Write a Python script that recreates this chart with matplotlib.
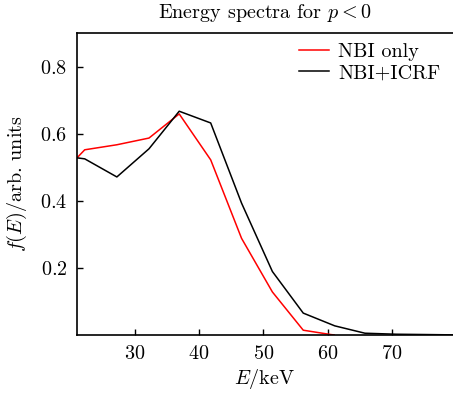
import matplotlib
matplotlib.use("Agg")
import matplotlib.pyplot as plt

plt.rcParams["font.family"] = "cmr10"
plt.rcParams["mathtext.fontset"] = "cm"
plt.rcParams["axes.formatter.use_mathtext"] = True

# energy grid (keV) and spectra
energy_nbi = [21, 22.2, 27.2, 32.2, 36.9, 41.8, 46.6, 51.4, 56.2, 60.5, 61]
f_nbi = [0.528, 0.552, 0.567, 0.587, 0.659, 0.522, 0.288, 0.128, 0.014, 0.001, 0.0]

energy_icrf = [21, 22.2, 27.2, 32.2, 36.9, 41.8, 46.6, 51.4, 56.2, 61.1, 65.8, 70.7, 75.5, 80]
f_icrf = [0.528, 0.525, 0.471, 0.555, 0.667, 0.632, 0.393, 0.189, 0.065, 0.027, 0.005, 0.002, 0.001, 0.0]

fs = 14.5

fig = plt.figure(figsize=(4.53, 3.94), dpi=100)
ax = fig.add_axes([0.170, 0.150, 0.830, 0.766])

ax.plot(energy_nbi, f_nbi, color="red", lw=1.1, label="NBI only")
ax.plot(energy_icrf, f_icrf, color="black", lw=1.1, label="NBI+ICRF")

ax.set_xlim(21, 79.5)
ax.set_ylim(0, 0.9)
ax.set_xticks([30, 40, 50, 60, 70])
ax.set_yticks([0.2, 0.4, 0.6, 0.8])
ax.tick_params(direction="in", labelsize=fs, length=4, width=1, pad=7)
ax.spines["right"].set_visible(False)
for s in ["left", "bottom", "top"]:
    ax.spines[s].set_linewidth(1.2)

ax.set_xlabel("$E$/keV", fontsize=fs, labelpad=3)
ax.set_ylabel("$f(E)$/arb. units", fontsize=fs, labelpad=8)
ax.set_title("Energy spectra for $p<0$", fontsize=fs, pad=11)
ax.legend(loc="upper right", frameon=False, fontsize=fs, handlelength=1.5,
          borderaxespad=0.1, labelspacing=0.15, handletextpad=0.45,
          bbox_to_anchor=(0.993, 1.0))

fig.savefig("out.png", dpi=100)
